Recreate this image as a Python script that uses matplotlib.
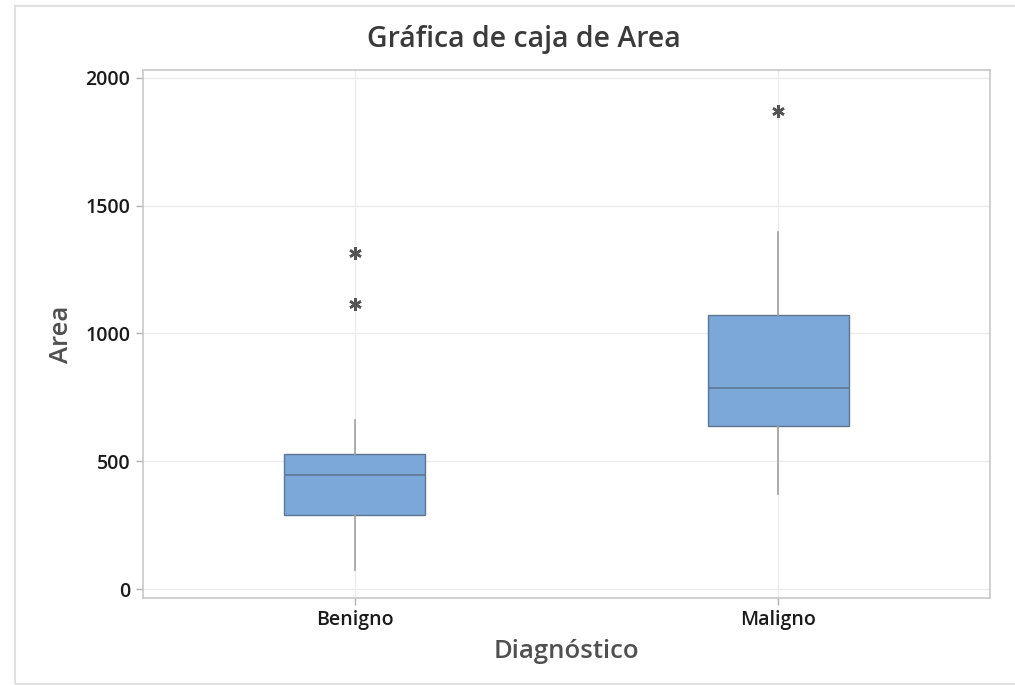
import matplotlib
matplotlib.use("Agg")
import matplotlib.pyplot as plt
from matplotlib.patches import Rectangle

plt.rcParams['font.family'] = ['Open Sans', 'DejaVu Sans']

categories = ["Benigno", "Maligno"]
q1 = [288, 638]
median = [445, 785]
q3 = [530, 1070]
whisker_low = [74, 370]
whisker_high = [660, 1396]
outliers = [[1113, 1315], [1868]]
yticks = [0, 500, 1000, 1500, 2000]

title = "Gráfica de caja de Area"
xlabel = "Diagnóstico"
ylabel = "Area"

fig = plt.figure(figsize=(10.15, 6.85), dpi=100)
fig.patch.set_facecolor("white")
W, H = 1015, 685
ax = fig.add_axes([143 / W, 1 - 598 / H, (990 - 143) / W, (598 - 70) / H])

# outer frame
fig.add_artist(Rectangle((15 / W, 1 - 684 / H), 1.2, (684 - 6) / H,
                         transform=fig.transFigure, fill=False,
                         edgecolor="#E0E0E0", linewidth=1.5))

stats = []
for i, c in enumerate(categories):
    stats.append(dict(label=c, q1=q1[i], med=median[i], q3=q3[i],
                      whislo=whisker_low[i], whishi=whisker_high[i],
                      fliers=outliers[i]))

positions = list(range(1, len(categories) + 1))

ax.set_axisbelow(True)
ax.grid(True, color="#EBEBEB", linewidth=1.0)

ax.bxp(stats, positions=positions, widths=0.333, patch_artist=True,
       showcaps=False,
       boxprops=dict(facecolor="#7BA7D9", edgecolor="#5F7690", linewidth=1.0),
       medianprops=dict(color="#5F7690", linewidth=1.2),
       whiskerprops=dict(color="#A0A0A0", linewidth=1.2),
       flierprops=dict(marker=(6, 2, 0), markersize=9, markeredgewidth=1.8,
                       markeredgecolor="#555555", markerfacecolor="#555555",
                       linestyle="none"))

ax.set_xlim(0.5, 2.5)
ax.set_ylim(-35, 2030)
ax.set_yticks(yticks)
ax.set_xticks(positions)
ax.set_xticklabels(categories)

for s in ax.spines.values():
    s.set_color("#C8C8C8")
    s.set_linewidth(1.2)

ax.tick_params(axis="both", colors="#B0B0B0", length=5, width=1,
               labelcolor="#1A1A1A", labelsize=14, pad=4)
for lab in ax.get_xticklabels() + ax.get_yticklabels():
    lab.set_fontweight("semibold")

fig.text(524 / W, 1 - 39 / H, title, fontsize=20.5, fontweight="semibold",
         color="#3A3A3A", ha="center", va="center")
ax.set_xlabel(xlabel, fontsize=18.5, fontweight="semibold", color="#505050",
              labelpad=6)
ax.set_ylabel(ylabel, fontsize=18.5, fontweight="semibold", color="#505050",
              labelpad=8)

fig.savefig("out.png", dpi=100)
